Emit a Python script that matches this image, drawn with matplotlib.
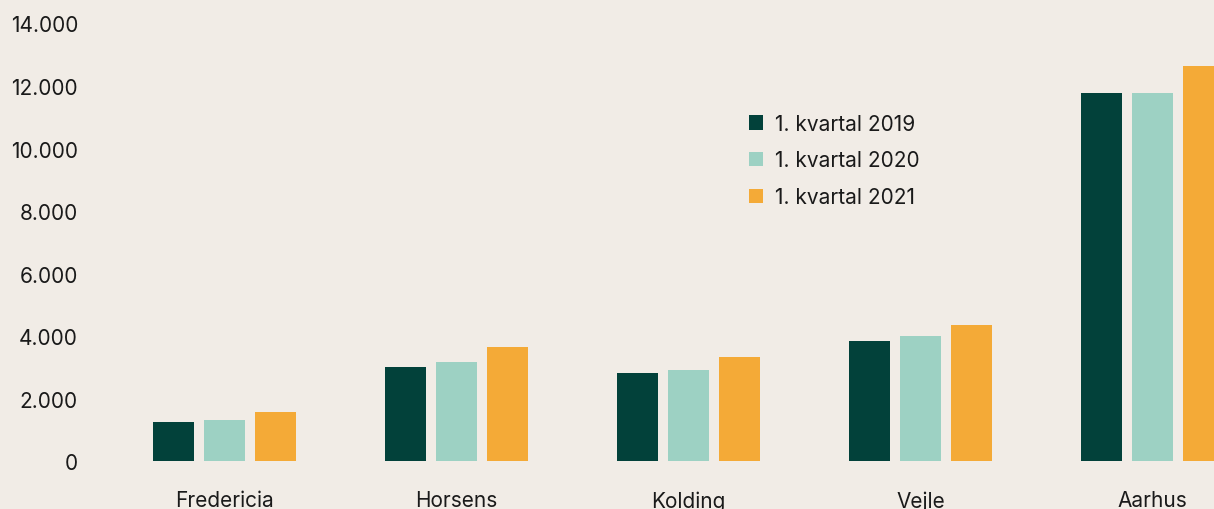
import matplotlib
matplotlib.use("Agg")
import matplotlib.pyplot as plt
from matplotlib.patches import Patch
from matplotlib.ticker import FuncFormatter
import numpy as np

cities = ["Fredericia", "Horsens", "Kolding", "Vejle", "Aarhus"]
series_names = ["1. kvartal 2019", "1. kvartal 2020", "1. kvartal 2021"]
v2019 = [1266, 3025, 2833, 3847, 11778]
v2020 = [1311, 3166, 2910, 3997, 11768]
v2021 = [1577, 3665, 3336, 4368, 12632]
colors = ["#02413A", "#9DD1C3", "#F4AA37"]
bg = "#F1ECE6"

plt.rcParams['font.family'] = ['Inter', 'DejaVu Sans']

W, H = 1214, 510
fig = plt.figure(figsize=(W / 100, H / 100), dpi=100, facecolor=bg)
left_px, right_px = 108.5, 1214
bottom_px, top_px = 462.3, 24.5
ax = fig.add_axes([left_px / W, (H - bottom_px) / H,
                   (right_px - left_px) / W, (bottom_px - top_px) / H])
ax.set_facecolor(bg)

x = np.arange(len(cities))
bw = 0.1767
off = 0.221
for i, (vals, c, name) in enumerate(zip([v2019, v2020, v2021], colors, series_names)):
    ax.bar(x + (i - 1) * off, vals, width=bw, color=c, label=name, zorder=2)

ax.set_ylim(0, 14000)
ax.set_xlim(-0.5, -0.5 + (right_px - left_px) / 232.0)
ax.set_yticks(range(0, 14001, 2000))
ax.yaxis.set_major_formatter(FuncFormatter(lambda v, p: f"{int(v):,}".replace(",", ".")))
ax.set_xticks(x)
ax.set_xticklabels(cities)
ax.tick_params(axis='y', length=0, pad=22, labelsize=15, labelcolor="#1a1a1a")
ax.tick_params(axis='x', length=0, pad=21, labelsize=15, labelcolor="#1a1a1a")
for s in ax.spines.values():
    s.set_visible(False)

handles = [Patch(facecolor=c, edgecolor='none') for c in colors]
ax.legend(handles, series_names, loc='upper left',
          bbox_to_anchor=(730 / W, (H - 96) / H), bbox_transform=fig.transFigure,
          frameon=False, fontsize=15, handlelength=0.7, handleheight=0.7,
          handletextpad=0.55, labelspacing=0.8, labelcolor="#1a1a1a")

fig.savefig("out.png", dpi=100, facecolor=bg)
